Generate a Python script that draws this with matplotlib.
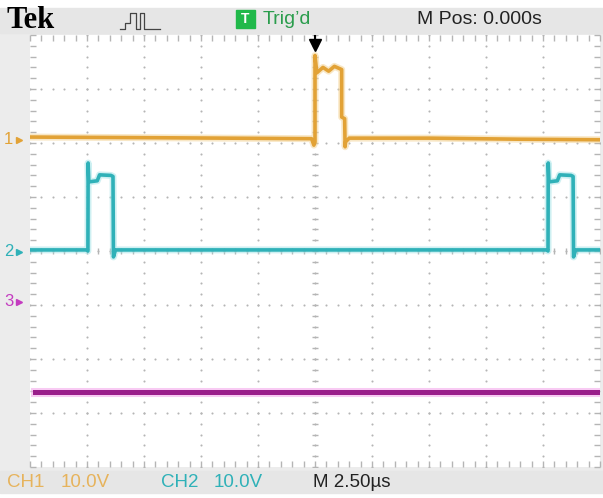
import numpy as np
import matplotlib
matplotlib.use('Agg')
import matplotlib.pyplot as plt
from matplotlib.lines import Line2D
from matplotlib.patches import Rectangle

# time in microseconds (2.5 us/div), amplitude in screen divisions
ch1_t = [-12.5, -8.0, -4.0, -0.15, -0.05, 0.0, 0.0, 0.08, 0.35, 0.6, 0.85, 1.17, 1.17, 1.30, 1.32, 1.34, 1.50, 5.0, 9.0, 12.5]
ch1_v = [2.11, 2.10, 2.09, 2.08, 1.96, 2.02, 3.62, 3.30, 3.40, 3.33, 3.42, 3.36, 2.48, 2.45, 1.93, 2.02, 2.09, 2.09, 2.07, 2.06]

ch2_t = [-12.5, -10.0, -9.96, -9.95, -9.92, -9.55, -9.45, -8.95, -8.86, -8.84, -8.75,
         10.18, 10.22, 10.23, 10.26, 10.63, 10.73, 11.23, 11.32, 11.34, 11.43, 12.5]
ch2_v = [0.02, 0.02, 0.0, 1.63, 1.28, 1.30, 1.41, 1.40, 1.38, -0.11, 0.02,
         0.02, 0.0, 1.63, 1.28, 1.30, 1.41, 1.40, 1.38, -0.11, 0.02, 0.02]

ch3_t = [-12.28, -6.0, 0.0, 6.0, 12.41]
ch3_v = [-2.61, -2.61, -2.61, -2.61, -2.61]

W, H = 603, 498
C1 = '#e2a236'
C2 = '#2fb1b8'
C3 = '#9a1e8b'
GRID = '#b5b5b5'


def fx(px):
    return px / W


def fy(py):
    return 1 - py / H


def div(py):
    return 4 - (py - 35) / 54.0


fig = plt.figure(figsize=(W / 100, H / 100), dpi=100, facecolor='#ececec')
fig.patches.append(Rectangle((0, fy(8)), 1, 8 / H, transform=fig.transFigure, color='white', zorder=0))
fig.patches.append(Rectangle((0, 0), 1, 5 / H, transform=fig.transFigure, color='white', zorder=0))

ax = fig.add_axes([fx(30), fy(467), 570 / W, 432 / H])
ax.set_facecolor('white')
ax.set_xlim(-12.5, 12.5)
ax.set_ylim(-4, 4)
for s in ax.spines.values():
    s.set_visible(False)
ax.set_xticks(np.arange(-12.5, 12.6, 2.5))
ax.set_xticks(np.arange(-12.5, 12.6, 0.5), minor=True)
ax.set_yticks(np.arange(-4, 4.1, 1))
ax.set_yticks(np.arange(-4, 4.01, 0.2), minor=True)
ax.tick_params(which='both', direction='in', length=4, width=1, color=GRID,
               top=True, right=True, labelbottom=False, labelleft=False)

# graticule dots
ys = np.arange(-4, 4.001, 0.2)
xs = np.arange(-12.5, 12.501, 0.5)
for xv in np.arange(-10, 10.1, 2.5):
    ax.plot(np.full_like(ys, xv), ys, ls='none', marker='o', ms=1.5, mew=0, color=GRID, zorder=1)
for yv in range(-3, 4):
    ax.plot(xs, np.full_like(xs, yv), ls='none', marker='o', ms=1.5, mew=0, color=GRID, zorder=1)
ax.plot(np.zeros_like(ys), ys, ls='none', marker='_', ms=5, mew=1, color=GRID, zorder=1)
ax.plot(xs, np.zeros_like(xs), ls='none', marker='|', ms=5, mew=1, color=GRID, zorder=1)

# traces
ax.plot(ch1_t, ch1_v, color='#f3d18f', lw=5, alpha=0.5, zorder=2)
ax.plot(ch1_t, ch1_v, color=C1, lw=2.6, zorder=3)
ax.plot(ch2_t, ch2_v, color='#9fe2e6', lw=5, alpha=0.5, zorder=2)
ax.plot(ch2_t, ch2_v, color=C2, lw=2.6, zorder=3)
ax.plot(ch3_t, ch3_v, color='#f4a8ec', lw=6.5, alpha=0.6, zorder=2)
ax.plot(ch3_t, ch3_v, color=C3, lw=3.6, zorder=3)

# trigger marker
ax.plot([0, 0], [div(36), div(45)], color='black', lw=1.5, clip_on=False, zorder=5)
ax.plot([0], [div(45)], marker='v', ms=8, color='black', clip_on=False, zorder=5)

# top bar
fig.patches.append(Rectangle((0, fy(33)), 1, 25 / H, transform=fig.transFigure, color='#e6e6e6', zorder=0))
fig.text(fx(7), fy(20), 'Tek', family='Liberation Serif', weight='bold', size=22, va='center', ha='left')
icon_x = [120, 125, 125, 130, 130, 136, 136, 140, 140, 144, 144, 160]
icon_y = [29, 29, 23, 23, 13, 13, 29, 29, 13, 13, 29, 29]
fig.add_artist(Line2D([fx(v) for v in icon_x], [fy(v) for v in icon_y], color='#444444', lw=0.9,
                      transform=fig.transFigure))
fig.patches.append(Rectangle((fx(236), fy(28)), 19 / W, 18 / H, transform=fig.transFigure,
                             color='#20b94a', zorder=1))
fig.text(fx(245.5), fy(19), 'T', color='white', size=10, weight='bold', ha='center', va='center',
         family='Liberation Sans')
fig.text(fx(263), fy(19), 'Trig\u2019d', color='#2b9d4d', size=14, ha='left', va='center',
         family='Liberation Sans')
fig.text(fx(417), fy(19), 'M Pos: 0.000s', color='#222222', size=14, ha='left', va='center',
         family='Liberation Sans')

# channel markers
for lab, py, col in [('1', 140, C1), ('2', 252, C2), ('3', 302, '#c43cc0')]:
    fig.text(fx(4), fy(py), lab, color=col, size=12, ha='left', va='center', family='Liberation Sans')
    fig.add_artist(Line2D([fx(19)], [fy(py)], marker='>', ms=4, color=col, transform=fig.transFigure))

# bottom bar
fig.patches.append(Rectangle((0, fy(493)), 1, 22 / H, transform=fig.transFigure, color='#e6e6e6', zorder=0))
bottom = [('CH1', 7, '#e6b35c'), ('10.0V', 61, '#e6b35c'),
          ('CH2', 161, C2), ('10.0V', 214, C2), ('M 2.50\u00b5s', 313, '#222222')]
for txt, px, col in bottom:
    fig.text(fx(px), fy(482), txt, color=col, size=13.5, ha='left', va='center',
             family='Liberation Sans')

fig.savefig('out.png', dpi=100, facecolor=fig.get_facecolor())
